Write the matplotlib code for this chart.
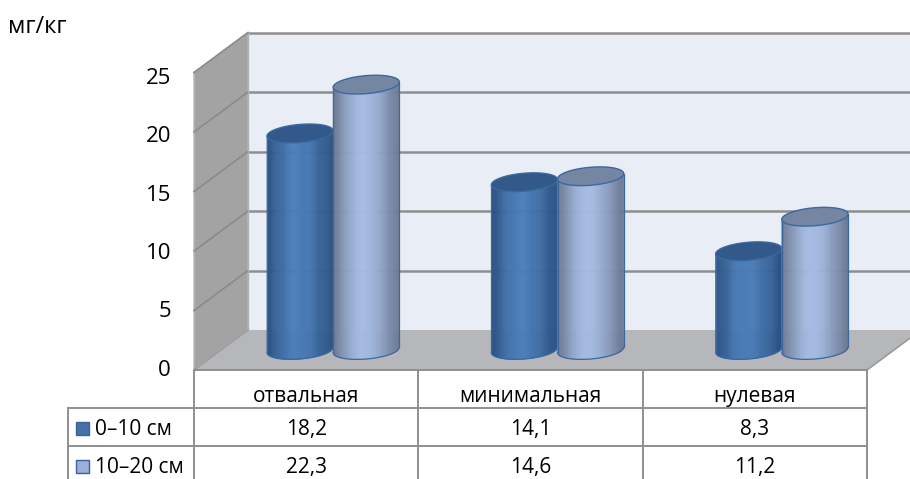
import numpy as np
import matplotlib
matplotlib.use('Agg')
import matplotlib.pyplot as plt
from matplotlib.patches import Polygon, Rectangle
from matplotlib.collections import PolyCollection
from matplotlib.transforms import IdentityTransform
from matplotlib.lines import Line2D
from matplotlib.colors import to_rgb

plt.rcParams['font.family'] = ['Open Sans', 'DejaVu Sans']

# ---------------- data ----------------
categories = ['отвальная', 'минимальная', 'нулевая']
series_labels = ['0–10 см', '10–20 см']
values_0_10 = [18.2, 14.1, 8.3]
values_10_20 = [22.3, 14.6, 11.2]
y_ticks = [0, 5, 10, 15, 20, 25]
unit_label = 'мг/кг'

# ---------------- styles ----------------
W, H = 910, 479
FS_TABLE = 15
FS_TICK = 16
FS_UNIT = 17
wall_back = '#E9EDF6'
wall_side = '#A3A3A3'
floor_c = '#B5B7BA'
grid_c = '#8E8E8E'
table_c = '#8F8F8F'
series_styles = [
    dict(edge='#2B5182', mid='#4A7CB8', top='#33598A', sw_fc='#4570A8'),
    dict(edge='#6C7A94', mid='#A5BBE3', top='#7586A3', sw_fc='#9BB0D8'),
]
outline_c = '#3A689F'

fig = plt.figure(figsize=(W / 100, H / 100), dpi=100)
fig.patch.set_facecolor('white')
ax = fig.add_axes([221 / W, (H - 350) / H, 673 / W, 297.5 / H])
ax.set_xlim(-0.5, len(categories) - 0.5)
ax.set_ylim(0, y_ticks[-1])
ax.set_autoscale_on(False)
ax.axis('off')

ID = IdentityTransform()
DX, DY = 27, 20   # depth offset (px) from mid plane to back plane


def P(x, v, d):
    px, py = ax.transData.transform((x, v))
    return (px + d * DX, py + d * DY)


def img(y):
    return H - y


def poly(pts, **kw):
    p = Polygon(pts, closed=True, transform=ID, clip_on=False, **kw)
    ax.add_patch(p)


def line(xs, ys, **kw):
    ax.add_line(Line2D(xs, ys, transform=ID, clip_on=False, **kw))


x0, x1 = -0.5, len(categories) - 0.5
vmax = y_ticks[-1]

# back wall
poly([P(x0, 0, 1), P(x1, 0, 1), P(x1, vmax, 1), P(x0, vmax, 1)],
     fc=wall_back, ec='none', zorder=1)
# side wall
poly([P(x0, 0, -1), P(x0, vmax, -1), P(x0, vmax, 1), P(x0, 0, 1)],
     fc=wall_side, ec='#B8B8B8', lw=1.0, zorder=1)
# gridlines
for v in y_ticks[1:]:
    a, b = P(x0, v, 1), P(x1, v, 1)
    line([a[0], b[0]], [a[1], b[1]], color=grid_c, lw=1.8, zorder=2)
    c = P(x0, v, -1)
    line([c[0], a[0]], [c[1], a[1]], color='#8A8A8A', lw=1.2, zorder=2)
a, b = P(x0, 0, 1), P(x0, vmax, 1)
line([a[0], b[0]], [a[1], b[1]], color='#B0B0B0', lw=1.0, zorder=2)
# floor
poly([P(x0, 0, -1), P(x1, 0, -1), P(x1, 0, 1), P(x0, 0, 1)],
     fc=floor_c, ec='none', zorder=3)
a, b = P(x1, 0, -1), P(x1, 0, 1)
line([a[0], b[0]], [a[1], b[1]], color='#9A9A9A', lw=1.2, zorder=3)
a, b = P(x0, 0, -1), P(x0, 0, 1)
line([a[0], b[0]], [a[1], b[1]], color='#9A9A9A', lw=1.0, zorder=3)


def shade(t, edge, mid):
    e = np.array(to_rgb(edge)); m = np.array(to_rgb(mid))
    peak = 0.45
    if t < peak:
        u = t / peak
    else:
        u = (1 - t) / (1 - peak)
    u = np.sin(u * np.pi / 2) ** 1.3
    return tuple(e + (m - e) * u)


def cylinder(xc, width, v, st, z):
    l = P(xc - width / 2, 0, 0)[0]
    r = P(xc + width / 2, 0, 0)[0]
    c = (l + r) / 2
    a = (r - l) / 2
    yb = P(xc, 0, 0)[1]
    yt = P(xc, v, 0)[1]
    b = 9.0
    s = 0.08

    def lower(x, y0):
        return y0 + (x - c) * s - b * np.sqrt(np.clip(1 - ((x - c) / a) ** 2, 0, 1))

    n = 70
    xs = np.linspace(l, r, n + 1)
    polys, cols = [], []
    for i in range(n):
        xa, xb = xs[i], xs[i + 1]
        polys.append([(xa, yt + (xa - c) * s), (xb, yt + (xb - c) * s),
                      (xb, lower(xb, yb)), (xa, lower(xa, yb))])
        cols.append(shade(((xa + xb) / 2 - l) / (r - l), st['edge'], st['mid']))
    pc = PolyCollection(polys, facecolors=cols, edgecolors=cols, linewidths=0.4,
                        transform=ID, clip_on=False, zorder=z)
    ax.add_collection(pc, autolim=False)
    line([l, l], [yt + (l - c) * s, yb + (l - c) * s], color=outline_c, lw=0.9, zorder=z + 0.1)
    line([r, r], [yt + (r - c) * s, yb + (r - c) * s], color=outline_c, lw=0.9, zorder=z + 0.1)
    xx = np.linspace(l, r, 80)
    line(xx, lower(xx, yb), color=outline_c, lw=0.9, zorder=z + 0.1)
    t = np.linspace(0, 2 * np.pi, 120)
    ex = c + a * np.cos(t)
    ey = yt + b * np.sin(t) + a * np.cos(t) * s
    poly(list(zip(ex, ey)), fc=st['top'], ec=outline_c, lw=1.0, zorder=z + 0.2)


bar_w = 0.295
series = [values_0_10, values_10_20]
offsets = [-bar_w / 2, bar_w / 2]
for i in range(len(categories)):
    for k, vals in enumerate(series):
        cylinder(i + offsets[k], bar_w, vals[i], series_styles[k], 5 + i + k * 0.4)

# y tick labels (slightly compressed label scale as in the reference)
for v in y_ticks:
    px, py = P(x0, v, -1)
    ax.text(px - 23, py - v * 0.24, str(v), transform=ID, ha='right', va='center',
            fontsize=FS_TICK, color='black', clip_on=False)

ax.text(8, img(33), unit_label, transform=ID, ha='left', va='baseline',
        fontsize=FS_UNIT, color='black', clip_on=False)

# data table
col_edges = [P(x, 0, -1)[0] for x in np.arange(x0, x1 + 0.5, 1.0)]
tbl_top = P(x0, 0, -1)[1]
row_lines = [img(408), img(446)]
left_edge = col_edges[0] - 126
bottom = img(479)
line([col_edges[0], col_edges[-1]], [tbl_top, tbl_top], color=table_c, lw=1.4, zorder=4)
for ry in row_lines:
    line([left_edge, col_edges[-1]], [ry, ry], color=table_c, lw=1.4, zorder=4)
for cx in col_edges:
    line([cx, cx], [tbl_top, bottom], color=table_c, lw=1.4, zorder=4)
line([left_edge, left_edge], [row_lines[0], bottom], color=table_c, lw=1.4, zorder=4)

for i, cat in enumerate(categories):
    cx = (col_edges[i] + col_edges[i + 1]) / 2
    ax.text(cx, img(402), cat, transform=ID, ha='center', va='baseline',
            fontsize=FS_TABLE, clip_on=False)
row_base = [img(435), img(473)]
for k, vals in enumerate(series):
    yb = row_base[k]
    for i, v in enumerate(vals):
        cx = (col_edges[i] + col_edges[i + 1]) / 2
        ax.text(cx, yb, f'{v:.1f}'.replace('.', ','), transform=ID, ha='center',
                va='baseline', fontsize=FS_TABLE, clip_on=False)
    sw = Rectangle((left_edge + 8, yb + 0.5), 13, 13, transform=ID, clip_on=False,
                   fc=series_styles[k]['sw_fc'], ec='#3A6496', lw=1.0, zorder=6)
    ax.add_patch(sw)
    ax.text(left_edge + 27, yb, series_labels[k], transform=ID, ha='left',
            va='baseline', fontsize=FS_TABLE, clip_on=False)

fig.savefig('out.png', dpi=100, facecolor='white')
